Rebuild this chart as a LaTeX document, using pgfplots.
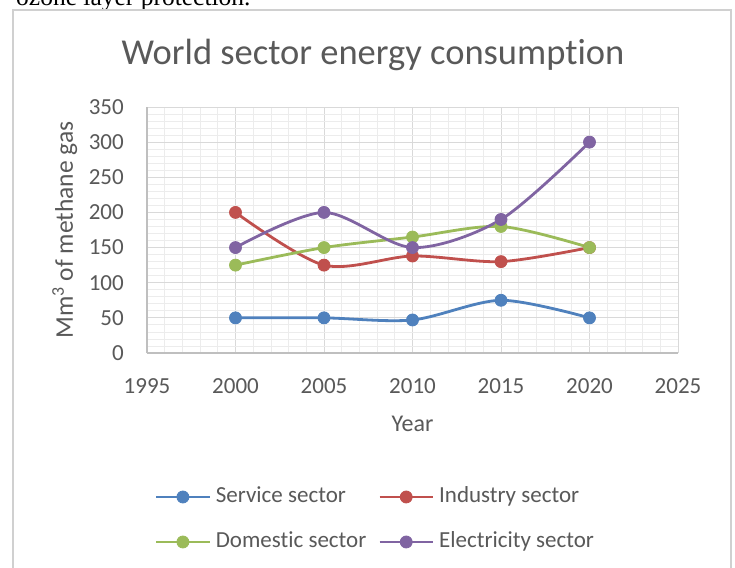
\documentclass[border=0pt]{standalone}
\usepackage{fontspec}
\setmainfont{Carlito}[Ligatures=NoCommon]
\newfontfamily\serifdoc{Liberation Serif}
\usepackage{pgfplots}
\usepackage{pgfplotstable}
\pgfplotsset{compat=1.18}

\definecolor{txtgray}{HTML}{595959}
\definecolor{gridmajor}{HTML}{D9D9D9}
\definecolor{gridminor}{HTML}{ECECEC}
\definecolor{axisgray}{HTML}{BFBFBF}
\definecolor{framegray}{HTML}{D0D0D0}
\definecolor{sService}{HTML}{4F81BD}
\definecolor{sIndustry}{HTML}{C0504D}
\definecolor{sDomestic}{HTML}{9BBB59}
\definecolor{sElectric}{HTML}{8064A2}

% consumption per sector, Mm^3 of methane gas
\pgfplotstableread{
year service industry domestic electricity
2000 50 200 125 150
2005 50 125 150 200
2010 47 138 165 150
2015 75 130 180 190
2020 50 150 150 300
}\energy

\begin{document}
\begin{tikzpicture}
\useasboundingbox (0bp,0bp) rectangle (735bp,568bp);
\clip (0bp,0bp) rectangle (735bp,568bp);
% last line of the running text above the chart
\node[anchor=base west, inner sep=0pt, font=\serifdoc\fontsize{25.5bp}{30bp}\selectfont] at (16bp,562bp) {ozone layer protection.};
% chart area
\fill[white] (13bp,-10bp) rectangle (731bp,558bp);
\draw[framegray, line width=1.5bp] (13bp,-10bp) rectangle (731bp,558bp);
\node[anchor=base, inner sep=0pt, text=txtgray, font=\fontsize{36.5bp}{40bp}\selectfont] at (373bp,503bp) {World sector energy consumption};

\begin{axis}[
  at={(147bp,215bp)}, anchor=south west,
  width=531bp, height=246bp, scale only axis,
  xmin=1995, xmax=2025, ymin=0, ymax=350,
  xtick distance=5, ytick distance=50,
  minor x tick num=4, minor y tick num=4,
  scaled ticks=false,
  grid=both,
  major grid style={gridmajor, line width=0.8bp},
  minor grid style={gridminor, line width=0.8bp},
  axis x line*=bottom, axis y line*=left,
  axis line style={axisgray, line width=1.5bp, -},
  every outer x axis line/.append style={-},
  every outer y axis line/.append style={-},
  major tick length=0pt, minor tick length=0pt,
  tick label style={text=txtgray, font=\fontsize{23bp}{27bp}\selectfont, inner sep=0pt},
  /pgf/number format/assume math mode=true,
  /pgf/number format/set thousands separator={},
  xticklabel style={anchor=north, yshift=-25bp},
  yticklabel style={anchor=east, xshift=-23bp},
  xlabel={Year},
  ylabel={Mm\textsuperscript{3} of methane gas},
  label style={text=txtgray, font=\fontsize{24bp}{28bp}\selectfont, inner sep=0pt},
  xlabel style={at={(axis description cs:0.5,-0.3211)}, anchor=base},
  ylabel style={at={(axis description cs:-0.1394,0.5)}, anchor=base, font=\fontsize{25.5bp}{30bp}\selectfont},
  legend columns=2,
  legend cell align=left,
  legend style={
    at={(axis description cs:0.01507,-0.6768)}, anchor=west,
    draw=none, fill=none, inner sep=0pt, outer sep=0pt,
    font=\fontsize{23bp}{27bp}\selectfont, text=txtgray,
    row sep=24bp,
    /tikz/every odd column/.append style={column sep=5bp},
    /tikz/every even column/.append style={column sep=12bp},
    nodes={inner sep=0pt, text height=16bp, text depth=5bp},
  },
  legend image code/.code={
    \draw[#1, mark repeat=2, mark phase=2] plot coordinates {(0bp,0bp) (26.5bp,0bp) (53bp,0bp)};
  },
  every axis plot/.append style={line width=2.8bp, smooth, mark=*, mark size=6bp, mark options={solid, line width=0.8bp}},
]
\addplot[sService] table[x=year, y=service] {\energy};
\addlegendentry{Service sector}
\addplot[sIndustry] table[x=year, y=industry] {\energy};
\addlegendentry{Industry sector}
\addplot[sDomestic] table[x=year, y=domestic] {\energy};
\addlegendentry{Domestic sector}
\addplot[sElectric] table[x=year, y=electricity] {\energy};
\addlegendentry{Electricity sector}
\end{axis}
\end{tikzpicture}
\end{document}
